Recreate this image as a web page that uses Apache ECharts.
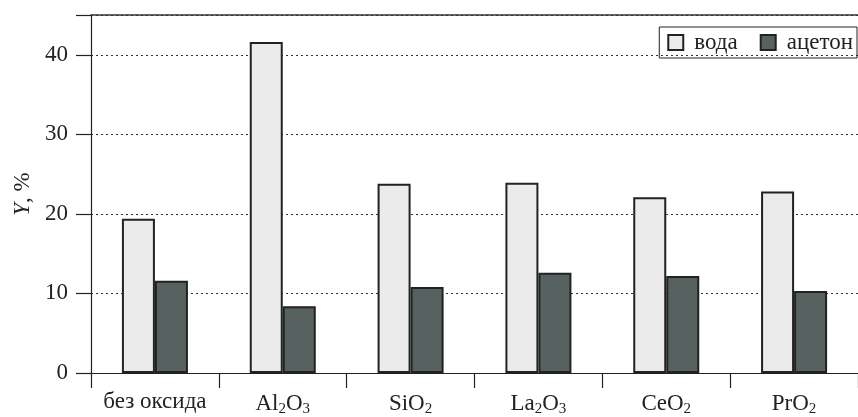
<!DOCTYPE html>
<html><head><meta charset="utf-8">
<script src="https://cdn.jsdelivr.net/npm/echarts@6/dist/echarts.min.js"></script>
<style>html,body{margin:0;padding:0;background:#fff}#c{width:858px;height:417px}</style>
</head><body><div id="c"></div>
<script>
const categories = ['без оксида', '{n|Al}{s|2}{n|O}{s|3}', '{n|SiO}{s|2}', '{n|La}{s|2}{n|O}{s|3}', '{n|CeO}{s|2}', '{n|PrO}{s|2}'];
const seriesNames = ['вода', 'ацетон'];
const water = [19.4, 41.6, 23.8, 23.9, 22.1, 22.8];
const acetone = [11.6, 8.4, 10.8, 12.6, 12.2, 10.3];
const yTicks = [0, 10, 20, 30, 40];

const font = 'Liberation Serif';
const chart = echarts.init(document.getElementById('c'));
chart.setOption({
  animation: false,
  textStyle: {fontFamily: font},
  grid: {left: 91, top: 15, width: 774, bottom: 44, containLabel: false},
  legend: {
    top: 27, right: 1, orient: 'horizontal',
    data: seriesNames,
    icon: 'rect', itemWidth: 15, itemHeight: 15, itemGap: 22,
    padding: [4, 4, 4, 8],
    borderColor: '#222', borderWidth: 1,
    textStyle: {fontFamily: font, fontSize: 23, color: '#222', padding: [0, 0, 0, 6]}
  },
  xAxis: [{
    type: 'category', data: categories, position: 'bottom',
    axisLine: {lineStyle: {color: '#222', width: 1.2}},
    axisTick: {show: true, length: 15, interval: 0, lineStyle: {color: '#222', width: 1.2}},
    axisLabel: {
      interval: 0, margin: 17, color: '#222', fontSize: 23, fontFamily: font,
      rich: {
        n: {fontSize: 23, fontFamily: font, color: '#222'},
        s: {fontSize: 15, fontFamily: font, color: '#222', padding: [12, 0, 0, 0]}
      }
    }
  }, {
    type: 'category', data: categories, position: 'top',
    axisLine: {show: true, lineStyle: {color: '#333', width: 1.5}},
    axisTick: {show: false}, axisLabel: {show: false}
  }],
  yAxis: {
    type: 'value', min: 0, max: 45, interval: 10,
    name: '{i|Y}, %', nameLocation: 'middle', nameGap: 57, nameRotate: 90,
    nameTextStyle: {fontSize: 23, fontFamily: font, color: '#222',
      rich: {i: {fontStyle: 'italic', fontSize: 23, fontFamily: font, color: '#222'}}},
    axisLine: {show: true, lineStyle: {color: '#222', width: 1.2}},
    axisTick: {show: true, length: 15, lineStyle: {color: '#222', width: 1.2}},
    axisLabel: {
      margin: 23, color: '#222', fontSize: 23, fontFamily: font,
      formatter: v => yTicks.includes(v) ? String(v) : ''
    },
    splitLine: {show: true, lineStyle: {type: [2, 3], color: '#333', width: 1.2}}
  },
  series: [{
    name: seriesNames[0], type: 'bar', data: water, barWidth: 33, barGap: '0%',
    itemStyle: {color: '#ebebeb', borderColor: '#222', borderWidth: 2}
  }, {
    name: seriesNames[1], type: 'bar', data: acetone, barWidth: 33, barGap: '0%',
    itemStyle: {color: '#566160', borderColor: '#222', borderWidth: 2}
  }]
});
</script></body></html>
